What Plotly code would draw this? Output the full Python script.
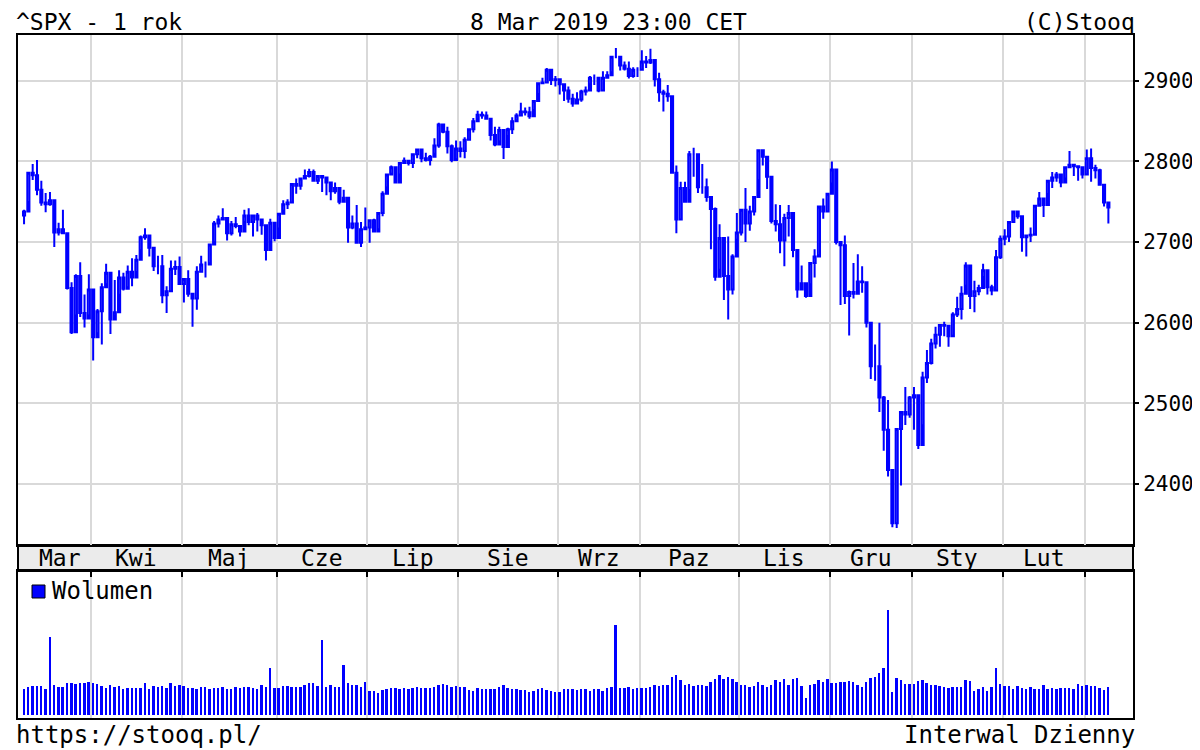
import plotly.graph_objects as go

months = ["Mar","Kwi","Maj","Cze","Lip","Sie","Wrz","Paz","Lis","Gru","Sty","Lut",""]
month_len = [16,21,22,21,21,23,19,23,21,19,21,19,6]

close = [2738,2786,2783,2765,2749,2747,2752,2712,2716,2711,2643,2588,2658,2612,2605,2641,
 2582,2614,2644,2662,2604,2613,2656,2642,2663,2656,2678,2706,2708,2693,2670,2670,2634,2639,2667,2669,2648,
 2654,2636,2630,2663,2672,2672,2697,2723,2728,2730,2711,2722,2720,2713,2733,2725,2733,2728,2721,2690,2724,2705,
 2735,2747,2749,2772,2770,2779,2782,2787,2776,2782,2780,2774,2763,2767,2750,2755,2718,2723,2699,2716,2718,
 2727,2713,2736,2760,2784,2793,2774,2798,2801,2798,2809,2815,2804,2802,2806,2820,2846,2837,2819,2802,2816,
 2813,2827,2840,2850,2858,2857,2853,2833,2821,2839,2818,2840,2850,2857,2862,2861,2856,2875,2897,2898,2914,2901,2902,
 2896,2888,2878,2872,2877,2887,2888,2904,2904,2888,2904,2907,2930,2930,2919,2915,2906,2914,2914,
 2924,2923,2926,2902,2886,2884,2881,2786,2728,2767,2750,2809,2809,2768,2768,2756,2741,2657,2705,2658,2641,2682,2712,
 2740,2723,2738,2756,2814,2806,2781,2726,2722,2702,2730,2736,2690,2641,2649,2633,2674,2682,2744,2738,2760,
 2790,2700,2696,2633,2638,2636,2651,2650,2600,2546,2546,2507,2467,2417,2351,2468,2489,2486,2507,
 2510,2448,2532,2550,2574,2585,2597,2596,2583,2610,2617,2636,2671,2633,2639,2643,2665,2644,2640,2681,2704,
 2707,2725,2738,2732,2706,2708,2709,2745,2754,2746,2776,2780,2784,2774,2793,2796,2794,2793,2784,
 2804,2792,2789,2771,2749,2743]

high = [2740,2786,2797,2802,2776,2761,2762,2741,2724,2740,2703,2650,2660,2675,2635,2660,
 2638,2617,2649,2673,2656,2653,2665,2662,2671,2680,2684,2708,2717,2703,2692,2683,2684,2645,2677,2677,2682,
 2655,2665,2637,2670,2683,2676,2698,2726,2733,2742,2719,2726,2731,2719,2740,2742,2733,2736,2727,2710,2729,2724,
 2736,2752,2753,2772,2779,2779,2790,2791,2790,2783,2780,2775,2766,2774,2764,2765,2753,2733,2746,2725,2743,
 2727,2729,2737,2763,2784,2795,2785,2799,2805,2802,2810,2816,2810,2811,2808,2829,2848,2844,2843,2821,2826,
 2825,2830,2841,2854,2863,2862,2862,2848,2843,2843,2831,2842,2855,2860,2873,2867,2868,2876,2898,2904,2916,2912,2906,
 2900,2893,2893,2884,2886,2889,2893,2906,2908,2903,2912,2912,2931,2941,2927,2924,2924,2917,2917,
 2938,2931,2940,2919,2910,2889,2895,2874,2795,2775,2775,2813,2817,2806,2797,2779,2754,2743,2722,2692,2707,2685,2736,
 2741,2767,2745,2757,2815,2814,2796,2781,2747,2746,2735,2746,2733,2670,2671,2648,2675,2691,2744,2754,2760,
 2800,2785,2697,2708,2640,2674,2685,2670,2637,2601,2573,2600,2509,2504,2410,2468,2489,2520,2509,
 2520,2493,2539,2566,2580,2595,2598,2601,2589,2613,2632,2645,2675,2660,2652,2647,2673,2661,2647,2690,2708,
 2716,2725,2738,2739,2728,2708,2718,2745,2762,2753,2776,2787,2787,2780,2793,2813,2796,2795,2791,
 2815,2816,2796,2791,2769,2744]

low = [2722,2751,2777,2758,2745,2737,2745,2694,2708,2711,2641,2586,2610,2607,2594,2610,
 2553,2588,2573,2649,2586,2610,2636,2640,2645,2645,2664,2691,2703,2682,2664,2660,2624,2612,2640,2659,2648,
 2625,2632,2595,2616,2664,2656,2675,2701,2718,2729,2702,2708,2717,2707,2726,2721,2707,2713,2709,2677,2702,2701,
 2718,2740,2741,2749,2760,2765,2780,2780,2775,2772,2762,2758,2752,2760,2747,2753,2699,2716,2699,2694,2718,
 2699,2713,2717,2732,2769,2786,2774,2785,2797,2795,2792,2804,2799,2800,2795,2811,2817,2835,2810,2799,2804,
 2805,2804,2828,2836,2855,2853,2852,2826,2819,2826,2803,2833,2834,2852,2857,2857,2853,2865,2885,2896,2899,2895,2893,
 2883,2875,2873,2868,2874,2874,2882,2897,2895,2886,2889,2903,2912,2928,2913,2913,2903,2904,2905,
 2913,2916,2921,2893,2874,2862,2874,2785,2711,2729,2749,2766,2781,2761,2760,2750,2691,2652,2667,2628,2604,2635,2704,
 2708,2700,2714,2733,2778,2795,2766,2723,2713,2686,2670,2707,2681,2631,2649,2631,2649,2656,2685,2729,2737,
 2774,2697,2622,2623,2584,2630,2651,2637,2594,2530,2528,2489,2441,2409,2346,2345,2398,2473,2482,
 2467,2443,2474,2525,2548,2568,2570,2583,2570,2585,2607,2604,2647,2617,2613,2634,2658,2635,2634,2639,2679,
 2696,2700,2724,2729,2688,2682,2700,2711,2748,2731,2761,2767,2775,2768,2780,2796,2782,2776,2779,
 2785,2775,2779,2770,2744,2723]

first_open = 2733

volume = [26,28,29,29,29,26,77,30,28,28,32,32,31,32,32,33,
 32,31,29,27,30,28,29,26,27,27,27,27,32,26,29,28,29,27,32,29,30,
 29,27,27,26,28,28,26,27,27,28,26,26,28,27,28,28,27,26,30,28,47,27,
 27,29,29,28,28,28,30,32,32,29,74,28,30,28,28,50,32,30,30,28,33,
 24,24,22,25,26,27,27,26,27,26,27,28,27,27,27,28,30,31,30,28,29,
 28,28,25,24,27,26,26,26,26,28,30,27,26,26,25,25,23,24,26,27,25,24,23,
 23,26,26,26,25,26,26,24,26,26,24,27,28,89,27,27,28,26,27,
 27,27,28,30,29,30,30,38,40,35,30,31,29,30,30,29,33,36,40,36,38,36,33,
 30,30,28,29,33,30,28,30,35,33,36,30,36,37,29,17,30,31,35,33,36,
 32,32,33,33,34,33,30,28,33,37,38,42,47,104,23,37,35,31,31,
 31,34,35,32,30,30,29,28,27,28,28,28,35,34,24,26,28,24,28,47,31,
 29,29,26,29,27,26,28,26,26,30,26,27,26,27,27,27,26,31,29,
 30,29,29,27,25,28]

n = len(close)
idx = list(range(n))
opens = [first_open] + close[:-1]

BLUE = "#0000ff"
FONT = "DejaVu Sans Mono"
FS = 24

fig = go.Figure()
fig.add_trace(go.Candlestick(
    x=idx, open=opens, high=high, low=low, close=close,
    increasing=dict(line=dict(color=BLUE, width=2), fillcolor="white"),
    decreasing=dict(line=dict(color=BLUE, width=2), fillcolor=BLUE),
    whiskerwidth=0, xaxis="x", yaxis="y", showlegend=False, hoverinfo="skip"))
fig.add_trace(go.Bar(x=idx, y=volume, marker=dict(color=BLUE, line_width=0),
                     width=0.45, xaxis="x2", yaxis="y2", showlegend=False))

bounds, centres, s = [], [], 0
for L in month_len:
    centres.append(s + (L - 1) / 2)
    s += L
    bounds.append(s - 0.5)
bounds = bounds[:-1]
centres[0] = 8.3

xr = [-1.4, 256.7]
W, Hh = 1192, 742
ml, mr, mt, mb = 10, 67, 27, 32
PW = W - ml - mr
H = Hh - mt - mb
def py(ypix):
    return (718 - ypix) / H
def px(xpix):
    return (xpix - 18) / PW

price_bot = py(545)
vol_top = py(571)

grid = "#d9d9d9"
fig.update_layout(
    width=W, height=Hh, margin=dict(l=ml, r=mr, t=mt, b=mb, autoexpand=False),
    paper_bgcolor="white", plot_bgcolor="white",
    font=dict(family=FONT, color="black", size=FS),
    xaxis=dict(domain=[0, 1], range=xr, anchor="y", tickvals=bounds, showticklabels=False,
               showgrid=True, gridcolor=grid, gridwidth=2, ticks="", showline=True,
               linecolor="black", linewidth=2, mirror=True, zeroline=False, automargin=False,
               rangeslider=dict(visible=False)),
    yaxis=dict(domain=[price_bot, 1], range=[2324, 2957], side="right", tickvals=[2400,2500,2600,2700,2800,2900],
               showgrid=True, gridcolor=grid, gridwidth=2, ticks="outside", ticklen=4, tickwidth=2,
               tickcolor="black", showline=True, linecolor="black", linewidth=2, mirror=True,
               zeroline=False, automargin=False, tickfont=dict(size=21, family=FONT)),
    xaxis2=dict(domain=[0, 1], range=xr, anchor="y2", tickvals=bounds, showticklabels=False,
                showgrid=True, gridcolor=grid, gridwidth=2, ticks="inside", ticklen=6, tickwidth=2,
                tickcolor="black", side="top", showline=True, linecolor="black", linewidth=2,
                mirror=True, zeroline=False, automargin=False),
    yaxis2=dict(domain=[0, vol_top], range=[-3, 143], showticklabels=False, showgrid=False,
                ticks="", showline=True, linecolor="black", linewidth=2, mirror=True,
                zeroline=False, automargin=False),
    bargap=0,
)

fig.add_shape(type="rect", xref="paper", yref="paper", x0=0, x1=1, y0=vol_top, y1=price_bot,
              fillcolor="#ebebeb", line=dict(color="black", width=2), layer="below")
for m, c in zip(months, centres):
    if m:
        fig.add_annotation(x=c, xref="x", y=py(558), yref="paper", text=m, showarrow=False,
                           yanchor="middle", font=dict(size=23, family=FONT))

fig.add_shape(type="rect", xref="paper", yref="paper",
              x0=px(32), x1=px(45), y0=py(598), y1=py(585),
              fillcolor=BLUE, line=dict(color="black", width=1))
fig.add_annotation(x=px(50), xref="paper", y=py(591), yref="paper", text="Wolumen", showarrow=False,
                   xanchor="left", yanchor="middle", font=dict(size=FS, family=FONT))

def txt(x, y, t, anchor, ya="middle", size=FS):
    fig.add_annotation(x=x, xref="paper", y=y, yref="paper", text=t, showarrow=False,
                       xanchor=anchor, yanchor=ya, borderpad=0, font=dict(size=size, family=FONT))
ytop = py(8)
txt(-0.003, ytop, "^SPX - 1 rok", "left", "top", 23)
txt(px(608), ytop, "8 Mar 2019 23:00 CET", "center", "top", 23)
txt(1.003, ytop, "(C)Stooq", "right", "top", 23)
txt(-0.003, py(735), "https://stooq.pl/", "left")
txt(1.003, py(735), "Interwal Dzienny", "right")

fig.write_html("out.html")
